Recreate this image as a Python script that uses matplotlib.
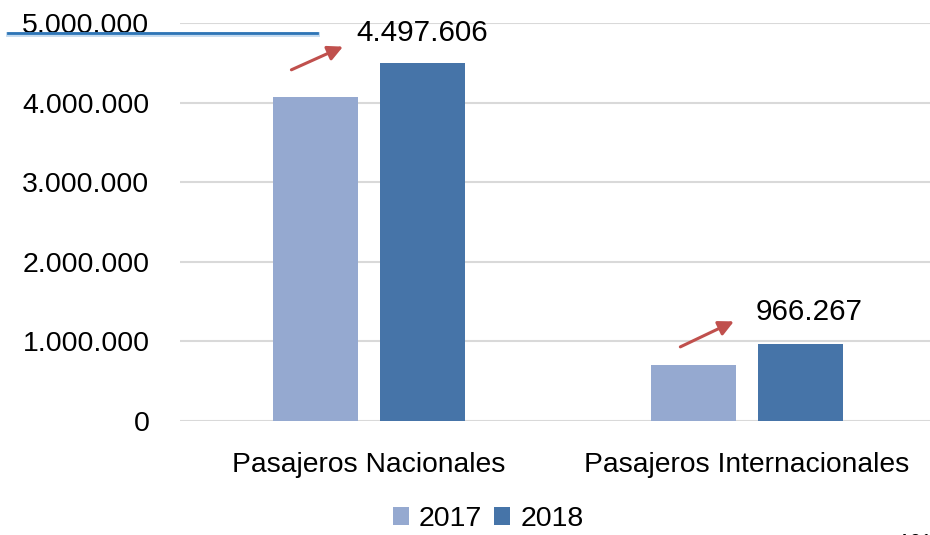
import numpy as np
import matplotlib.pyplot as plt
from matplotlib.lines import Line2D

plt.rcParams['font.family'] = ['Liberation Sans', 'DejaVu Sans']

categories = ['Pasajeros Nacionales', 'Pasajeros Internacionales']
years = ['2017', '2018']
pax_2017 = [4070000, 700000]
pax_2018 = [4497606, 966267]
labels_2018 = ['4.497.606', '966.267']
yticks = [0, 1000000, 2000000, 3000000, 4000000, 5000000]
ytick_labels = ['0', '1.000.000', '2.000.000', '3.000.000', '4.000.000', '5.000.000']

c17 = '#95a9d0'
c18 = '#4674a8'
arrow_col = '#c0504d'

fig = plt.figure(figsize=(9.3, 5.35), dpi=100)
ax = fig.add_axes([180/930, 1 - 421/535, 756/930, 398/535])

x = np.arange(len(categories))
w = 0.225
off = 0.142
ax.bar(x - off, pax_2017, w, color=c17, label=years[0], zorder=3)
ax.bar(x + off, pax_2018, w, color=c18, label=years[1], zorder=3)

ax.set_xlim(-0.5, 1.5)
ax.set_ylim(0, 5000000)
ax.set_yticks(yticks)
ax.set_yticklabels(ytick_labels, fontsize=20.5)
ax.set_xticks(x)
ax.set_xticklabels(categories, fontsize=20.3)
ax.tick_params(axis='both', length=0)
ax.tick_params(axis='y', pad=22)
ax.tick_params(axis='x', pad=22)
ax.grid(axis='y', color='#d9d9d9', linewidth=1.5, zorder=0)
for s in ax.spines.values():
    s.set_visible(False)

# red arrows and value labels above the 2018 bars (offsets hand-placed per bar)
arrow_from = [(-0.212, -0.10e6), (-0.183, -0.05e6)]
arrow_to = [(-0.062, 0.22e6), (-0.028, 0.30e6)]
label_at = [(-0.034, 0.377e6), (0.024, 0.40e6)]
for i, v in enumerate(pax_2018):
    ax.annotate('', xy=(x[i] + arrow_to[i][0], v + arrow_to[i][1]),
                xytext=(x[i] + arrow_from[i][0], v + arrow_from[i][1]),
                arrowprops=dict(arrowstyle='-|>,head_length=0.9,head_width=0.45',
                                color=arrow_col, lw=2.2), zorder=5)
    ax.text(x[i] + label_at[i][0], v + label_at[i][1], labels_2018[i],
            fontsize=21.3, ha='left', va='center', zorder=5)

# blue line across the top-left
fig.add_artist(Line2D([8/930, 317/930], [1 - 34/535, 1 - 34/535],
                      color='#9dc3e6', linewidth=3.5, alpha=0.6))
fig.add_artist(Line2D([8/930, 317/930], [1 - 33/535, 1 - 33/535],
                      color='#2e75b6', linewidth=2))

fig.legend(loc='center', bbox_to_anchor=(488/930, 1 - 519/535), ncol=2,
           frameon=False, fontsize=20.5, handlelength=0.58, handleheight=0.58,
           handletextpad=0.35, columnspacing=0.4, borderpad=0.1)

fig.text(898/930, -0.03, 'A01', fontsize=14, ha='left', va='bottom')

fig.savefig('out.png', dpi=100)
